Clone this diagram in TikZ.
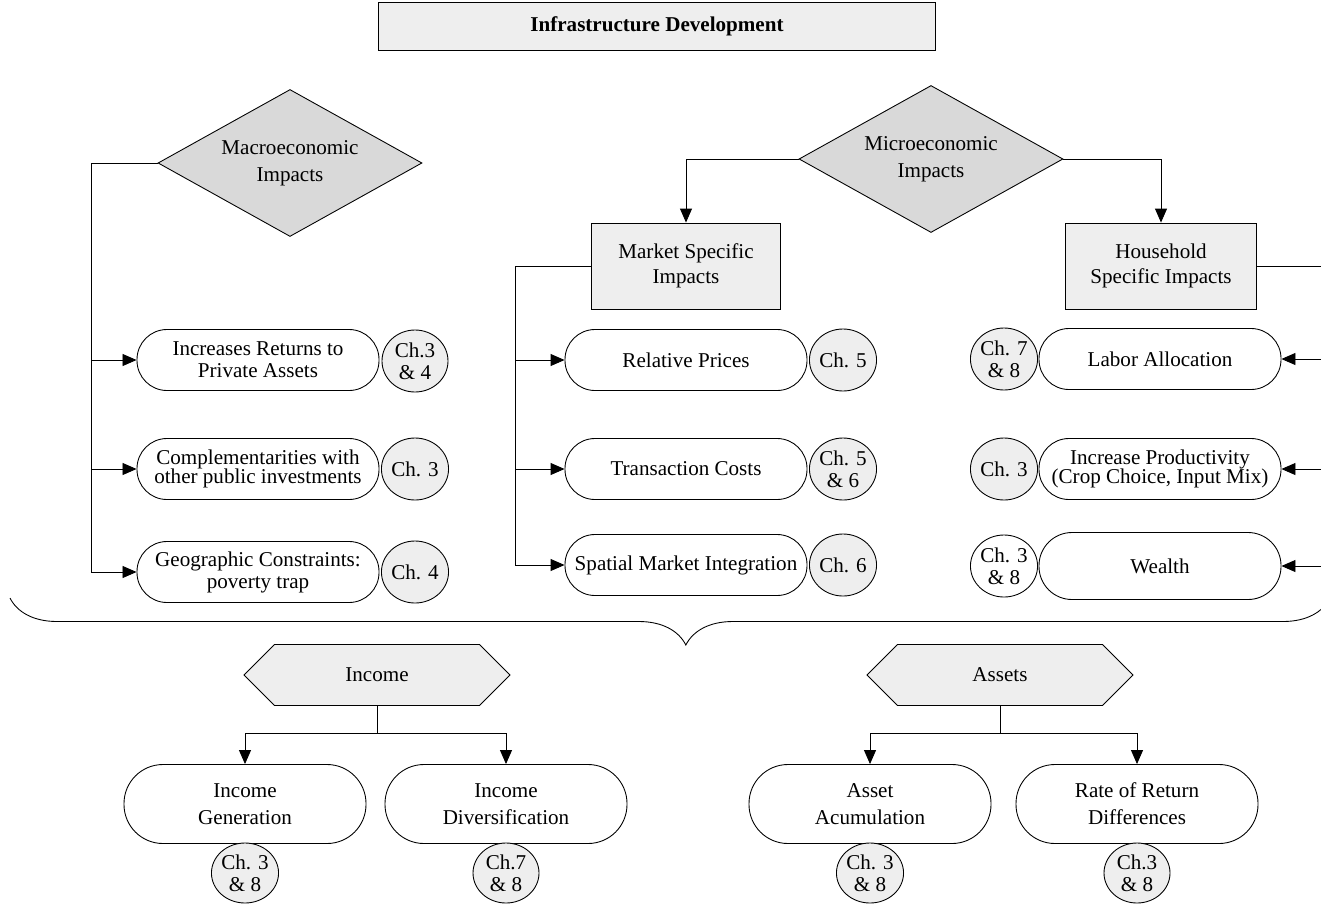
\documentclass[tikz,border=0pt]{standalone}
\usepackage{fontspec}
\setmainfont{Liberation Serif}
\usepackage{tikz}
\usetikzlibrary{shapes}
\usetikzlibrary{arrows.meta, positioning}
\usetikzlibrary{decorations.pathreplacing}
\definecolor{lightgrey}{HTML}{EEEEEE}
\definecolor{darkgrey}{HTML}{D9D9D9}
\tikzstyle{simple-rect} = [rectangle, text centered, align=center, draw = black, fill=lightgrey, inner sep=1pt]
\tikzstyle{impact} = [diamond, aspect=1.8, draw=black, fill=darkgrey, align=center, minimum width=5.28cm, minimum height=2.94cm, inner sep=0pt]
\tikzstyle{outcome} = [signal, signal to=west and east, draw=black, fill=lightgrey, minimum width=5.32cm, minimum height=1.22cm, inner sep=0pt]
\tikzstyle{pill} = [rectangle, rounded corners=0.6cm, draw=black, fill=white, align=center, minimum width=4.84cm, minimum height=1.22cm, inner sep=1pt]
\tikzstyle{pill-big} = [pill, rounded corners=0.78cm, minimum height=1.58cm]
\tikzstyle{chapter} = [ellipse, draw=black, fill=lightgrey, align=center, minimum width=1.32cm, minimum height=1.24cm, inner sep=0pt]
\tikzstyle{arrow} = [->,>={Triangle[length=2.8mm, width=2.4mm]}]

\begin{document}
\begin{tikzpicture}[x=0.2mm, y=-0.2mm, line width=0.5pt, font=\fontsize{12}{12.5}\selectfont]
        \useasboundingbox (0,0) rectangle (1321,903);

        \node [simple-rect, minimum width=11.14cm, minimum height=0.96cm, font=\fontsize{12}{12.5}\selectfont\bfseries] (infrastructure) at (657,26) {Infrastructure Development};

        \node [impact] (macro) at (290,163) {Macroeconomic\\[3pt]Impacts};
        \node [impact] (micro) at (931,159) {Microeconomic\\[3pt]Impacts};

        \node [simple-rect, minimum width=3.78cm, minimum height=1.72cm] (market) at (686,266) {Market Specific\\[2pt]Impacts};
        \node [simple-rect, minimum width=3.82cm, minimum height=1.72cm] (household) at (1161,266) {Household\\[2pt]Specific Impacts};

        % macroeconomic side
        \node [pill] (returns) at (258,360) {Increases Returns to\\Private Assets};
        \node [chapter] (returns-ch) at (415,361) {Ch.3\\\& 4};
        \node [pill] (complement) at (258,469) {Complementarities with\\[-2pt]other public investments};
        \node [chapter] (complement-ch) at (415,469) {Ch. 3};
        \node [pill] (geographic) at (258,572) {Geographic Constraints:\\poverty trap};
        \node [chapter] (geographic-ch) at (415,572) {Ch. 4};

        % market side
        \node [pill] (prices) at (686,360) {Relative Prices};
        \node [chapter] (prices-ch) at (843,360) {Ch. 5};
        \node [pill] (transaction) at (686,469) {Transaction Costs};
        \node [chapter] (transaction-ch) at (843,469) {Ch. 5\\\& 6};
        \node [pill] (spatial) at (686,565) {Spatial Market Integration};
        \node [chapter] (spatial-ch) at (843,565) {Ch. 6};

        % household side
        \node [pill] (labor) at (1160,359) {Labor Allocation};
        \node [chapter] (labor-ch) at (1004,359) {Ch. 7\\\& 8};
        \node [pill] (productivity) at (1160,469) {Increase Productivity\\[-2pt](Crop Choice, Input Mix)};
        \node [chapter] (productivity-ch) at (1004,469) {Ch. 3};
        \node [pill, minimum height=1.34cm, rounded corners=0.66cm] (wealth) at (1160,566) {Wealth};
        \node [chapter, fill=white] (wealth-ch) at (1004,566) {Ch. 3\\\& 8};

        \coordinate (macro-trunk) at (91,163);
        \coordinate (market-trunk) at (515,266);
        \coordinate (household-trunk) at (1325,266);

        \draw [arrow] (macro.west) -- (macro-trunk) |- (returns.west);
        \draw [arrow] (macro.west) -- (macro-trunk) |- (complement.west);
        \draw [arrow] (macro.west) -- (macro-trunk) |- (geographic.west);

        \draw [arrow] (micro.west) -| (market.north);
        \draw [arrow] (micro.east) -| (household.north);

        \draw [arrow] (market.west) -- (market-trunk) |- (prices.west);
        \draw [arrow] (market.west) -- (market-trunk) |- (transaction.west);
        \draw [arrow] (market.west) -- (market-trunk) |- (spatial.west);

        \draw [arrow] (household.east) -- (household-trunk) |- (labor.east);
        \draw [arrow] (household.east) -- (household-trunk) |- (productivity.east);
        \draw [arrow] (household.east) -- (household-trunk) |- (wealth.east);

        \draw [decorate, decoration={brace, mirror, amplitude=0.94cm, aspect=0.512}] (10,598) -- (1330,598);

        % outcomes
        \node [outcome] (income) at (377,675) {Income};
        \node [outcome] (assets) at (1000,675) {Assets};
        \coordinate (income-split) at (377,733);
        \coordinate (assets-split) at (1000,733);

        \node [pill-big] (generation) at (245,804) {Income\\[3pt]Generation};
        \node [pill-big] (diversification) at (506,804) {Income\\[3pt]Diversification};
        \node [pill-big] (accumulation) at (870,804) {Asset\\[3pt]Acumulation};
        \node [pill-big] (return-diff) at (1137,804) {Rate of Return\\[3pt]Differences};

        \node [chapter, minimum height=1.2cm] (generation-ch) at (245,873) {Ch. 3\\\& 8};
        \node [chapter, minimum height=1.2cm] (diversification-ch) at (506,873) {Ch.7\\\& 8};
        \node [chapter, minimum height=1.2cm] (accumulation-ch) at (870,873) {Ch. 3\\\& 8};
        \node [chapter, minimum height=1.2cm] (return-diff-ch) at (1137,873) {Ch.3\\\& 8};

        \draw [arrow] (income.south) -- (income-split) -| (generation.north);
        \draw [arrow] (income.south) -- (income-split) -| (diversification.north);
        \draw [arrow] (assets.south) -- (assets-split) -| (accumulation.north);
        \draw [arrow] (assets.south) -- (assets-split) -| (return-diff.north);
\end{tikzpicture}
\end{document}
